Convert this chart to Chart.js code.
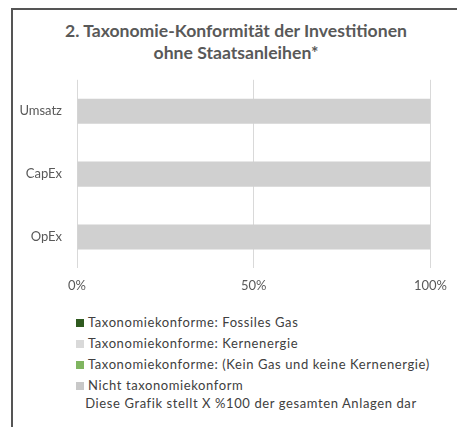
<!DOCTYPE html>
<html>
<head>
<meta charset="utf-8">
<script src="https://cdn.jsdelivr.net/npm/chart.js@4/dist/chart.umd.min.js"></script>
<style>
  body { margin: 0; background: #fff; font-family: Lato, sans-serif; }
  #frame { position: absolute; left: 11px; top: 8px; width: 470px; height: 440px; border: 2px solid #555; border-right: none; border-bottom: none; box-sizing: border-box; }
  #title { position: absolute; left: 0; width: 472px; top: 20px; text-align: center; font-size: 17.6px; font-weight: bold; line-height: 22px; color: #595959; }
  #wrap { position: absolute; left: 15px; top: 57px; width: 442px; height: 249px; }
  #legend { position: absolute; left: 76px; top: 314px; font-size: 13px; color: #404040; letter-spacing: 0.6px; }
  #legend div { height: 21px; line-height: 16px; }
  #legend span.box { display: inline-block; width: 8px; height: 8px; margin-right: 4px; vertical-align: 0px; }
  #note { position: absolute; left: 0; width: 502px; top: 395px; text-align: center; font-size: 13px; color: #404040; letter-spacing: 0.6px; }
</style>
</head>
<body>
<div id="frame"></div>
<div id="title">2. Taxonomie-Konformität der Investitionen<br>ohne Staatsanleihen*</div>
<div id="wrap"><canvas id="taxChart"></canvas></div>
<div id="legend"></div>
<div id="note">Diese Grafik stellt X %100 der gesamten Anlagen dar</div>
<script>
const categories = ["Umsatz", "CapEx", "OpEx"];
const seriesNames = [
    "Taxonomiekonforme: Fossiles Gas",
    "Taxonomiekonforme: Kernenergie",
    "Taxonomiekonforme: (Kein Gas und keine Kernenergie)",
    "Nicht taxonomiekonform"
];
const fossilGas = [0, 0, 0];
const nuclear = [0, 0, 0];
const otherAligned = [0, 0, 0];
const notAligned = [100, 100, 100];
const xTicks = [0, 50, 100];

const colors = ["#2f5a1f", "#d9d9d9", "#7fb560", "#d0d0d0"];
const legendColors = ["#2f5a1f", "#d9d9d9", "#7fb560", "#c8c8c8"];
const values = [fossilGas, nuclear, otherAligned, notAligned];

document.addEventListener("DOMContentLoaded", function() {
    const chart = new Chart(document.getElementById("taxChart"), {
        type: 'bar',
        data: {
            labels: categories,
            datasets: seriesNames.map((name, i) => ({
                label: name,
                data: values[i],
                backgroundColor: colors[i],
                borderWidth: 0,
                barPercentage: 0.4,
                categoryPercentage: 1
            }))
        },
        options: {
            indexAxis: 'y',
            responsive: true,
            maintainAspectRatio: false,
            animation: false,
            layout: { padding: { top: 10, right: 26, bottom: 2, left: 0 } },
            plugins: {
                legend: { display: false },
                tooltip: { enabled: false }
            },
            scales: {
                x: {
                    stacked: true,
                    min: 0,
                    max: 100,
                    afterBuildTicks: axis => { axis.ticks = xTicks.map(v => ({ value: v })); },
                    ticks: {
                        callback: v => v + '%',
                        color: '#595959',
                        font: { family: 'Lato', size: 13 },
                        padding: 10,
                        maxRotation: 0
                    },
                    grid: { color: '#d9d9d9', lineWidth: 1, drawTicks: false },
                    border: { display: false }
                },
                y: {
                    stacked: true,
                    afterFit: axis => { axis.width = 62; },
                    ticks: {
                        color: '#595959',
                        font: { family: 'Lato', size: 13 },
                        padding: 15
                    },
                    grid: { display: false, drawTicks: false },
                    border: { display: false }
                }
            }
        }
    });

    // legend as plain text rows, built from the datasets
    const legend = document.getElementById("legend");
    chart.data.datasets.forEach((ds, i) => {
        const row = document.createElement("div");
        row.innerHTML = `<span class="box" style="background:${legendColors[i]}"></span>${ds.label}`;
        legend.appendChild(row);
    });
});
</script>
</body>
</html>
